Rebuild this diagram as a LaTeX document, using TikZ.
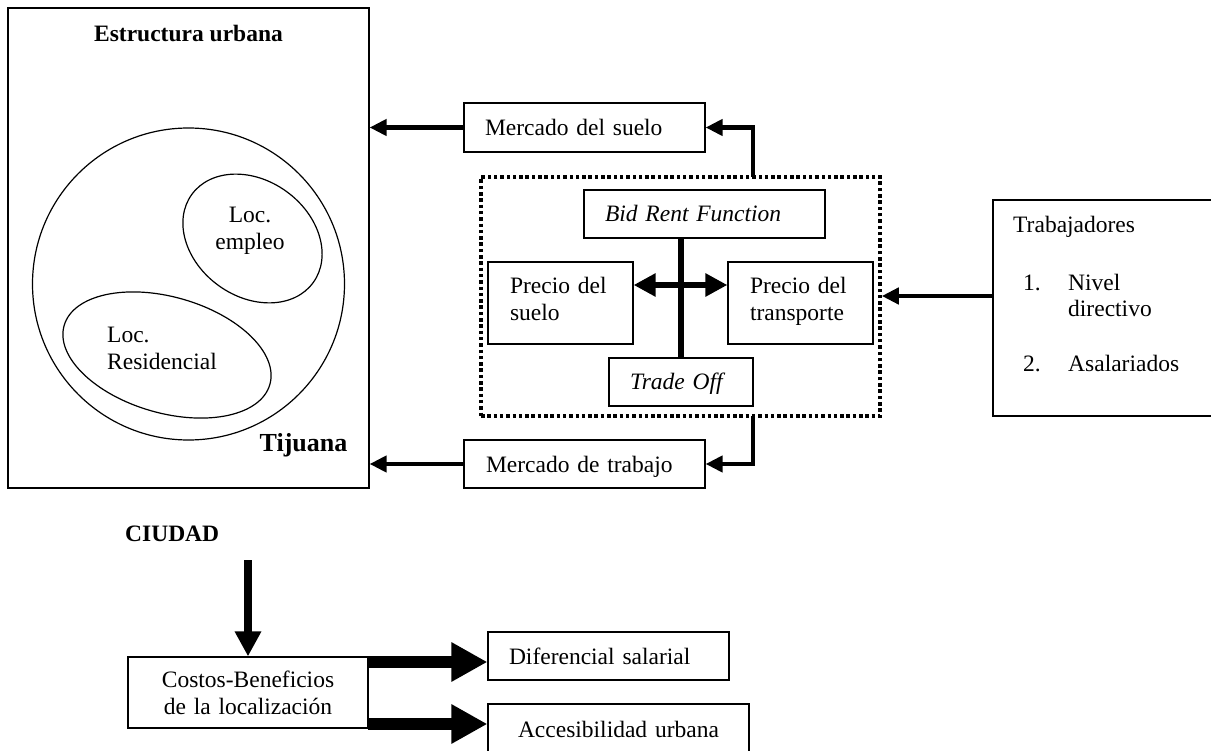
\documentclass[tikz,border=0pt]{standalone}
\usepackage{fontspec}
\setmainfont{Liberation Serif}
\usetikzlibrary{arrows.meta,shapes.geometric}
\tikzset{
  fnt/.style={font=\fontsize{23.5}{27}\selectfont},
  txt/.style={fnt, inner sep=0pt},
  tbox/.style={draw, line width=1.2pt, inner ysep=0pt, fnt, align=left},
  one/.style={text height=16pt, text depth=0pt},
  outl/.style={draw, line width=1.2pt, inner sep=0pt},
  arr/.style={line width=4.5pt, -{Triangle[length=17pt,width=16pt]}},
  dblarr/.style={line width=5.5pt, {Triangle[length=22pt,width=22pt]}-{Triangle[length=22pt,width=22pt]}},
  downarr/.style={line width=8pt, -{Triangle[length=25pt,width=25pt]}},
  fatarr/.style={line width=11.5pt, -{Triangle[length=36pt,width=37pt]}},
}
\begin{document}
\begin{tikzpicture}[x=1pt,y=1pt]
\useasboundingbox (0,0) rectangle (1211,-751);
\clip (0,0) rectangle (1211,-751);
\fill[white] (0,0) rectangle (1211,-751);

% Left: urban structure
\node[outl, minimum width=361pt, minimum height=480pt] (urb) at (188.5,-248) {};
\node[txt, font=\fontsize{23.5}{27}\selectfont\bfseries, anchor=base] (urbT) at (188.5,-42) {Estructura urbana};
\node[outl, circle, minimum size=312pt] (tij) at (188.5,-284) {};
\node[outl, ellipse, minimum width=150pt, minimum height=116pt, rotate=-36] (emp) at (252.5,-238.5) {};
\node[outl, ellipse, minimum width=214pt, minimum height=116pt, rotate=-16] (res) at (167,-355) {};
\node[txt, align=center] (empT) at (250,-231.2) {Loc.\\empleo};
\node[txt, align=left, anchor=west] (resT) at (107,-348.7) {Loc.\\Residencial};
\node[txt, font=\fontsize{26}{30}\selectfont\bfseries, anchor=base] (tijT) at (303.5,-451) {Tijuana};

% Markets
\node[tbox, one, minimum width=241pt, minimum height=49pt, inner xsep=21pt, text width=199pt] (ms) at (584.5,-127.5) {Mercado del suelo};
\node[tbox, one, minimum width=241pt, minimum height=48pt, inner xsep=22pt, text width=197pt] (mt) at (584.5,-464) {Mercado de trabajo};

% Dotted group
\node[draw, line width=3.5pt, dash pattern=on 3.5pt off 2.8pt, minimum width=399pt, minimum height=239pt] (dot) at (680.5,-296.5) {};
\node[tbox, one, minimum width=241pt, minimum height=48pt, inner xsep=21pt, text width=199pt] (bid) at (704.5,-214) {\itshape Bid Rent Function};
\node[tbox, one, minimum width=144pt, minimum height=48pt, inner xsep=21pt, text width=102pt] (trade) at (681,-382) {\itshape Trade Off};
\node[tbox, minimum width=145pt, minimum height=82pt, inner xsep=22pt, text width=101pt] (ps) at (560.5,-303) {Precio del\\suelo\rule[-9pt]{0pt}{0pt}};
\node[tbox, minimum width=145pt, minimum height=82pt, inner xsep=22pt, text width=101pt] (pt) at (800.5,-303) {Precio del\\transporte\rule[-9pt]{0pt}{0pt}};

% Workers
\node[outl, minimum width=247pt, minimum height=216pt] (trab) at (1116.5,-308) {};
\node[txt, anchor=base west] (trabT) at (1013,-232.5) {Trabajadores};
\node[txt, anchor=base west] (n1) at (1023,-290.5) {1.};
\node[txt, anchor=base west] (n1a) at (1068,-290.5) {Nivel};
\node[txt, anchor=base west] (n1b) at (1068,-316.5) {directivo};
\node[txt, anchor=base west] (n2) at (1023,-372) {2.};
\node[txt, anchor=base west] (n2a) at (1068,-372) {Asalariados};

% Bottom
\node[txt, font=\fontsize{23.5}{27}\selectfont\bfseries, anchor=base west] (ciu) at (125,-541) {CIUDAD};
\node[tbox, align=center, minimum width=240pt, minimum height=71pt, inner xsep=15pt, text width=210pt] (cost) at (248,-692.5) {Costos-Beneficios\\de la localización};
\node[tbox, one, minimum width=241pt, minimum height=48pt, inner xsep=21pt, text width=199pt] (dif) at (608.5,-656) {Diferencial salarial};
\node[tbox, one, align=center, minimum width=261pt, minimum height=50pt, inner xsep=20pt, text width=221pt] (acc) at (618.5,-729) {Accesibilidad urbana};

% Connectors
\coordinate (d1) at (753,-177);
\coordinate (d2) at (753,-416);
\coordinate (t1) at (993,-296);
\coordinate (hy) at (681,-285);
\coordinate (c0) at (248,-560);
\coordinate (f1) at (368,-662);
\coordinate (f2) at (368,-724);

\draw[arr] (d1) |- (ms.east);
\draw[arr] (ms.west) -- (ms.west -| urb.east);
\draw[arr] (d2) |- (mt.east);
\draw[arr] (mt.west) -- (mt.west -| urb.east);
\draw[arr] (t1) -- (t1 -| dot.east);
\draw[line width=5.5pt] (bid.south -| trade.north) -- (trade.north);
\draw[dblarr] (hy -| ps.east) -- (hy -| pt.west);
\draw[downarr] (c0) -- (cost.north);
\draw[fatarr] (f1) -- (f1 -| dif.west);
\draw[fatarr] (f2) -- (f2 -| acc.west);
\end{tikzpicture}
\end{document}
